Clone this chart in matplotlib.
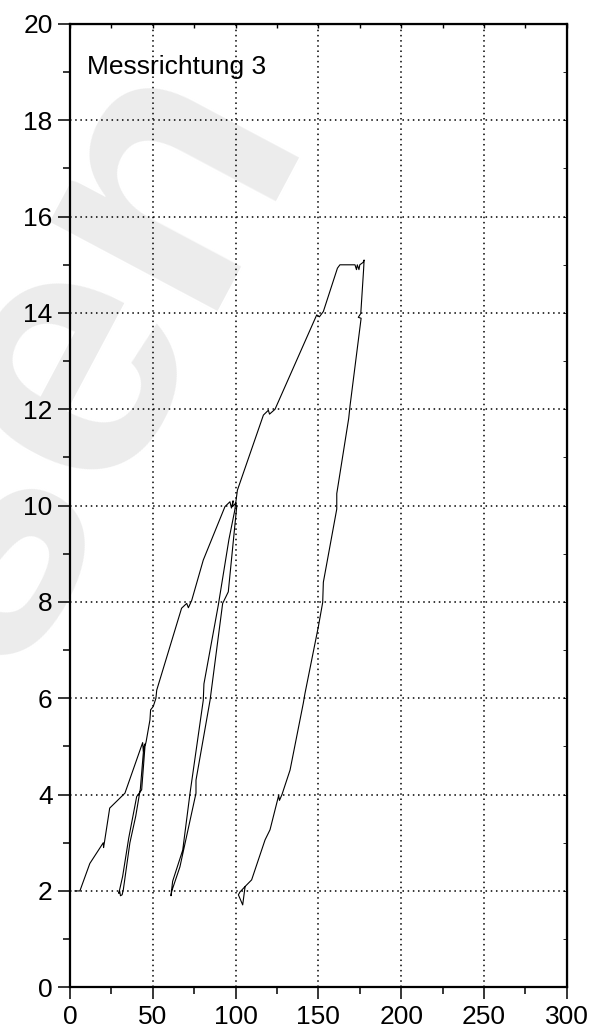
import matplotlib
matplotlib.use("Agg")
import matplotlib.pyplot as plt
from matplotlib.ticker import MultipleLocator

plt.rcParams['font.family'] = ['Liberation Sans', 'DejaVu Sans']

# Messrichtung 3 - load path
x_vals = [3, 6, 12.0, 17.1, 20.1, 20.3, 21.0, 24.0, 33.2, 43.9,
          44.3, 45.2, 44.5, 42.5, 39.7, 36.2, 32.2, 31.5, 30.5, 30.0, 29.5,
          31.8, 35.5, 40.3, 43.3, 45.3, 46.0, 48.3, 48.7, 50.3, 51.9, 52.4,
          67.4, 70.5, 71.5, 73.5, 80.5, 93.6, 96.6, 97.5, 98.5, 98.2, 100.0,
          100.7, 95.6, 92.2, 84.6, 76.1, 76.1, 66.4, 61.5, 61.0,
          62.0, 68.1, 72.5, 80.5, 80.9, 89.6, 96.0, 99.5, 101.1,
          116.8, 119.8, 120.5, 123.8, 149.0, 150.6, 153.0, 161.5, 163.0,
          172.1, 173.0, 173.5, 174.5, 175.0, 177.0, 177.6,
          177.3, 175.6, 174.1, 175.8, 169.1, 168.3, 161.1, 161.1, 153.0,
          152.6, 150.0, 141.9, 140.9, 132.9, 128.0, 126.5, 126.0, 120.8,
          117.8, 109.7, 105.7, 102.7, 101.7, 104.3, 105.7]
y_vals = [2.0, 2.0, 2.57, 2.84, 3.0, 2.9, 3.05, 3.72, 4.03, 5.08,
          4.9, 5.05, 4.95, 4.12, 3.55, 3.0, 2.02, 1.92, 1.9, 2.0, 1.95,
          2.3, 3.1, 3.96, 4.1, 5.0, 5.1, 5.55, 5.76, 5.83, 6.0, 6.17,
          7.87, 7.97, 7.88, 8.03, 8.87, 9.98, 10.08, 9.95, 10.1, 9.98, 10.05,
          9.98, 8.21, 7.97, 5.96, 4.3, 4.03, 2.5, 2.0, 1.9,
          2.2, 2.85, 4.03, 5.96, 6.3, 7.94, 9.3, 9.9, 10.32,
          11.88, 11.98, 11.9, 12.0, 13.96, 13.92, 14.03, 14.93, 15.0,
          15.0, 14.9, 15.0, 14.9, 15.0, 15.05, 15.1,
          14.9, 13.99, 13.91, 13.89, 12.07, 11.81, 10.25, 9.93, 8.41,
          7.99, 7.49, 6.10, 5.90, 4.51, 4.0, 3.88, 3.98, 3.27,
          3.06, 2.23, 2.09, 1.98, 1.92, 1.71, 2.08]

fig = plt.figure(figsize=(6.03, 10.34), dpi=100)
ax = fig.add_axes([0.116, 0.0452, 0.824, 0.9316])
ax.patch.set_alpha(0)
ax.set_zorder(1)

# light watermark behind the chart
fig.text(0.125, 0.655, "sen", fontsize=260, fontweight='bold', color='#ececec',
         rotation=62, ha='center', va='center', zorder=0)

ax.plot(x_vals, y_vals, color='black', lw=0.8, zorder=3)

ax.set_xlim(0, 300)
ax.set_ylim(0, 20)
ax.xaxis.set_major_locator(MultipleLocator(50))
ax.xaxis.set_minor_locator(MultipleLocator(25))
ax.yaxis.set_major_locator(MultipleLocator(2))
ax.yaxis.set_minor_locator(MultipleLocator(1))

ax.grid(True, which='major', color='black', lw=1.1, linestyle=(0, (1, 2.4)))
ax.tick_params(which='major', direction='out', length=8.5, width=1.1,
               labelsize=19, pad=4)
ax.tick_params(which='minor', direction='out', length=5, width=1.1)
for s in ['left', 'bottom', 'top', 'right']:
    ax.spines[s].set_linewidth(1.6)

# small inward ticks on top and right
ax_top = ax.secondary_xaxis('top')
ax_top.xaxis.set_major_locator(MultipleLocator(25))
ax_top.tick_params(direction='in', length=3, width=1.0, labeltop=False)
ax_right = ax.secondary_yaxis('right')
ax_right.yaxis.set_major_locator(MultipleLocator(1))
ax_right.tick_params(direction='in', length=3, width=0.6, labelright=False)

ax.text(10.3, 18.96, "Messrichtung 3", fontsize=19, va='baseline', ha='left')

fig.savefig("out.png", dpi=100)
